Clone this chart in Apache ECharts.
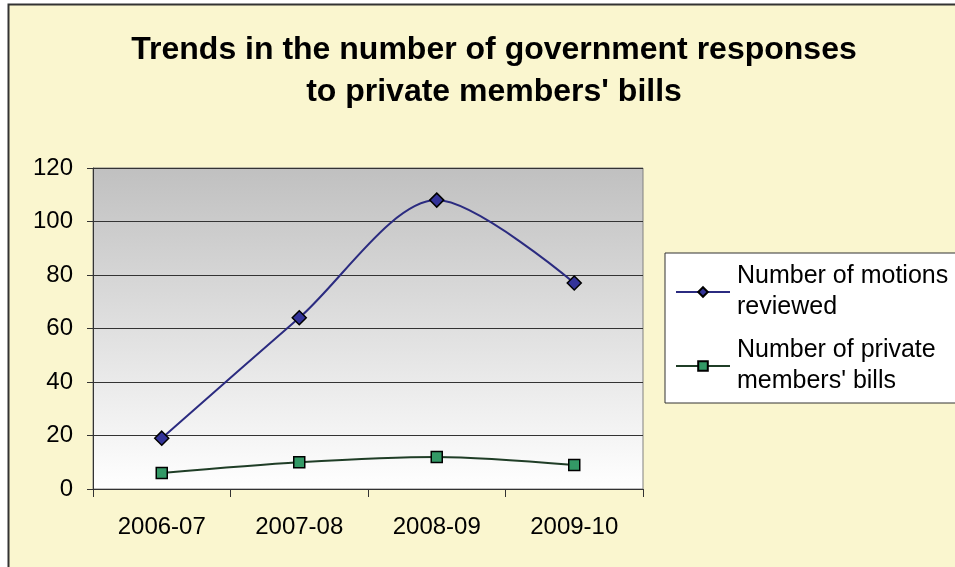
<!DOCTYPE html>
<html>
<head>
<meta charset="utf-8">
<script src="https://cdn.jsdelivr.net/npm/echarts@6/dist/echarts.min.js"></script>
<style>
  html, body { margin: 0; padding: 0; background: #fff; }
  #chart { width: 955px; height: 567px; }
</style>
</head>
<body>
<div id="chart"></div>
<script>
// Data
const years = ["2006-07", "2007-08", "2008-09", "2009-10"];
const motionsReviewed = [19, 64, 108, 77];
const privateBills = [6, 10, 12, 9];
const yTicks = { min: 0, max: 120, interval: 20 };

const FONT = "Liberation Sans, Arial, sans-serif";

const chart = echarts.init(document.getElementById("chart"), null, { renderer: "canvas" });

const option = {
  animation: false,
  backgroundColor: "#ffffff",
  graphic: [
    {
      type: "rect",
      z: -10,
      shape: { x: 8.5, y: 4.5, width: 1000, height: 700 },
      style: { fill: "#FAF6CF", stroke: "#333333", lineWidth: 2 },
    },
  ],
  title: {
    text: "Trends in the number of government responses\nto private members' bills",
    left: 489,
    textAlign: "center",
    top: 24,
    textStyle: {
      fontFamily: FONT,
      fontSize: 32,
      fontWeight: "bold",
      color: "#000",
      lineHeight: 42,
    },
  },
  legend: {
    orient: "vertical",
    left: 665,
    top: 253,
    padding: [8, 30, 6, 10],
    itemGap: 12,
    itemWidth: 54,
    itemHeight: 12,
    backgroundColor: "#ffffff",
    borderColor: "#333333",
    borderWidth: 1,
    borderRadius: 0,
    formatter: (name) =>
      name === "Number of motions reviewed"
        ? "Number of motions\nreviewed"
        : "Number of private\nmembers' bills",
    textStyle: {
      fontFamily: FONT,
      fontSize: 25,
      color: "#000",
      lineHeight: 31,
      padding: [0, 0, 0, 2],
    },
    data: ["Number of motions reviewed", "Number of private members' bills"],
  },
  grid: {
    left: 93,
    top: 168,
    right: 312,
    bottom: 78,
    show: true,
    borderColor: "#808080",
    borderWidth: 1,
    backgroundColor: new echarts.graphic.LinearGradient(0, 0, 0, 1, [
      { offset: 0, color: "#C0C0C0" },
      { offset: 1, color: "#FFFFFF" },
    ]),
  },
  xAxis: {
    type: "category",
    data: years,
    boundaryGap: true,
    axisLine: { lineStyle: { color: "#333", width: 1 } },
    axisTick: { show: true, length: 8, inside: false, lineStyle: { color: "#333" } },
    axisLabel: {
      fontFamily: FONT,
      fontSize: 24,
      color: "#000",
      margin: 26,
    },
    splitLine: { show: false },
  },
  yAxis: {
    type: "value",
    min: yTicks.min,
    max: yTicks.max,
    interval: yTicks.interval,
    axisLine: { show: true, lineStyle: { color: "#333", width: 1 } },
    axisTick: { show: true, length: 6, lineStyle: { color: "#333" } },
    axisLabel: {
      fontFamily: FONT,
      fontSize: 24,
      color: "#000",
      margin: 20,
    },
    splitLine: { show: true, lineStyle: { color: "#333", width: 1 } },
  },
  series: [
    {
      name: "Number of motions reviewed",
      type: "line",
      data: motionsReviewed,
      smooth: 0.3,
      symbol: "diamond",
      symbolSize: 14,
      lineStyle: { color: "#2B2B80", width: 2 },
      itemStyle: { color: "#333399", borderColor: "#000", borderWidth: 1.5 },
      z: 3,
    },
    {
      name: "Number of private members' bills",
      type: "line",
      data: privateBills,
      smooth: 0.3,
      symbol: "rect",
      symbolSize: 11,
      lineStyle: { color: "#1F3D26", width: 2 },
      itemStyle: { color: "#339966", borderColor: "#000", borderWidth: 1.5 },
      z: 3,
    },
  ],
};

chart.setOption(option);
</script>
</body>
</html>
